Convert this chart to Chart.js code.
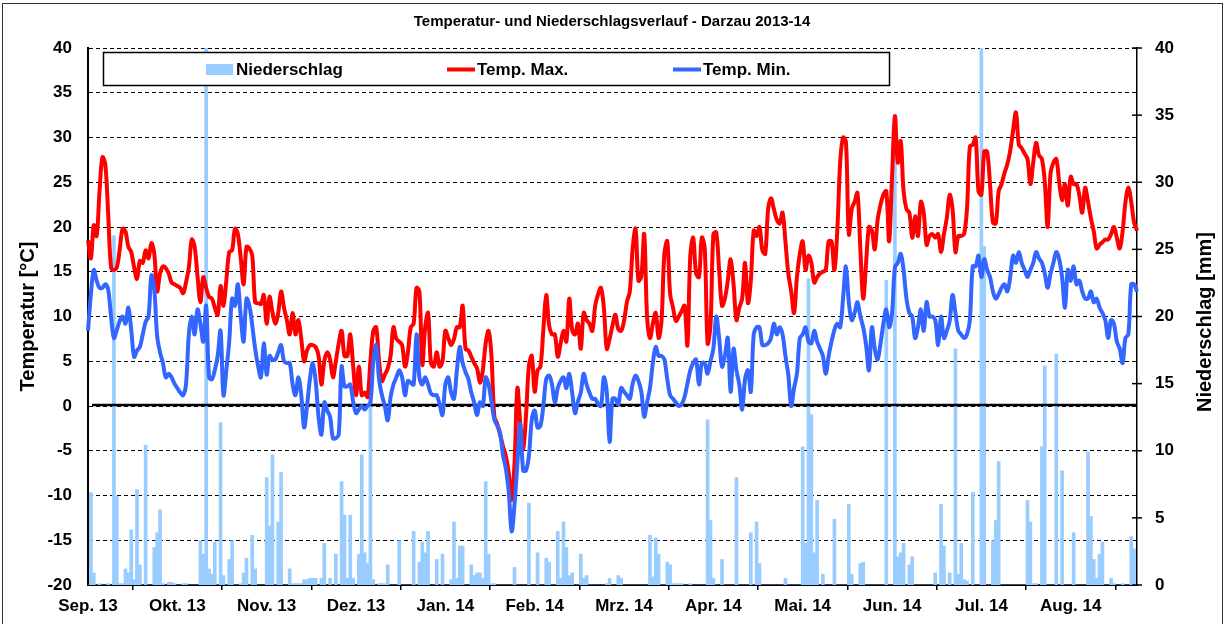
<!DOCTYPE html>
<html lang="de">
<head>
<meta charset="utf-8">
<title>Temperatur- und Niederschlagsverlauf - Darzau 2013-14</title>
<script src="https://cdn.jsdelivr.net/npm/chart.js@4.4.1/dist/chart.umd.min.js"></script>
<style>
  html, body { margin: 0; padding: 0; background: #fff; }
  #wrap { width: 1226px; height: 624px; }
</style>
</head>
<body>
<div id="wrap"><canvas id="chart" width="1226" height="624"></canvas></div>
<script>
// Tageswerte 01.09.2013 - 31.08.2014 (eine Zeile pro Monat)
const startDatum = "2013-09-01";
const tickSchritt = 31;
const monatsLabels = ["Sep. 13", "Okt. 13", "Nov. 13", "Dez. 13", "Jan. 14", "Feb. 14",
  "Mrz. 14", "Apr. 14", "Mai. 14", "Jun. 14", "Jul. 14", "Aug. 14"];

const tempMax = [
  18.5,16.5,20.2,19,24,27.8,27,21.5,15.5,15.2,15.5,17.5,19.8,19.5,17.8,17.2,15.5,14.2,16.2,16,17.4,16.5,18.2,17,12.8,14.8,15.6,15.4,14.8,13.8,
  13.6,13.4,13.2,12.6,13.8,15.5,18.6,17.8,14.5,11.6,14.4,13.2,12.2,12,11,10.2,13.4,11.2,14,17.2,17.4,19.8,19.2,16.5,13.6,17.8,17.6,16.8,11.6,11.5,11.4,
  12.4,9.2,12.2,10.5,9.2,10.4,12.8,11,9.6,8,10.4,8,9.6,7.5,5,6.2,6.8,6.8,6.6,5.6,2.4,5,6,5.2,3.2,5,7,8.4,5.6,5.6,
  8,4.5,1.2,4.4,1.2,1.5,1,5,8.4,8.8,5,2.8,3.5,4.2,5.6,8.8,7.5,7.2,6.8,4.4,6,8.8,9.2,13.2,12.8,4.6,8.8,10.4,4.8,4.4,6,
  4.4,5,8.4,7.6,6.8,7.5,8.8,8.8,11.2,6.4,6.2,5.5,4.8,4.2,2.6,4,7,8.4,5.6,-1.2,-2,-3.2,-4.5,-5.6,-7.5,-10.5,-6.4,2,-2,-4.8,-1,
  4.5,5.6,1.6,4,4.4,8.5,12.4,9,8,8,5.5,7,8.4,7.2,12,8.5,8,9.2,6.4,10.4,9.6,9.2,8.4,11.2,12.5,13.2,11,6.4,
  7.5,9,10.2,8.6,8.4,9.5,11.6,12.8,17.6,19.8,14,14.5,19.2,10,7.6,9.2,10.4,7.6,9.5,17,18.4,12.5,11,9.5,10,10.6,11.2,6.8,16.8,18.8,14.8,
  14.4,18.8,17.6,7,9,19.2,19.4,15.2,11.2,12,14,16.4,13.6,9.6,11,12,16,11.5,14,19.6,19,20,17.4,17,22,23.2,22,20.8,20.4,21.6,
  18.4,14.8,12.8,10.4,14.4,17,18.4,15.2,16.8,16,13.8,14.4,14.8,15,15.2,18.4,18.4,15.2,19.6,27.2,30,29.5,19.2,22,22.8,23.8,17.6,12,16,20,19.6,
  17.5,20.8,22.5,23.6,24,18.4,25.6,32.4,27.2,29.6,24,22,21.6,18.8,21.2,19,22.8,21.6,18,19,19.2,18.8,19.2,17.2,19.2,21,23.6,22,17.2,19,
  19,19.2,22,29,29.2,30,24,23.6,28.4,28.4,24.8,20.5,20.4,24,24.8,26,27,28.5,30.8,32.8,29.2,28.8,28.2,27.6,24.8,27.2,29.4,28,27.6,25,20,
  26,27.2,27.6,25,23,24.8,22.4,25.6,24.8,24.8,23.5,21.6,24.4,22.8,21,19.5,17.6,18,18.3,18.6,18.6,19.2,20,18.8,17.6,19.5,22.8,24.4,22.8,20.5,19.6
];

const tempMin = [
  8.4,12.5,15.2,14,13.2,13.2,13.6,13,10,7.6,8.5,9.5,10,9.2,11,8.5,5.5,6.2,6.6,8,9.4,10,14.6,13,7.8,6,4.8,3.2,3.6,3.2,
  2.5,2,1.5,1.2,2.4,8,10,8,10.8,9.2,7.2,11.2,3.2,3,4,5.6,8.4,1.2,4,7.2,12,11.2,13.6,10,7.2,12,11.2,9,6.4,4.5,3.2,
  7,3.5,5.6,5.2,5.2,6,6.8,5,4.8,4.8,2.4,1.2,3.2,1.2,-2.4,0,3,4.8,2.8,-1.2,-3.2,0.4,-0.5,-1.2,-3.6,-3.6,-3.2,4.4,2.2,2.2,
  2.4,0.5,-0.8,-0.4,0,-0.4,0,0.4,5,6.8,3,1.2,0,-1.6,1,2.4,3.2,4,3.2,1.2,2.8,2.6,2.4,8,3.2,2.4,3.2,2.4,1.4,1.2,1.2,
  0.2,-1,2.4,3.2,1.5,0.8,4,6.6,4.8,3.8,3,1.5,0.4,-1,0.4,0,3.2,2.4,0.5,-1.5,-2.2,-3,-5.5,-7,-9.6,-14,-11,-6.4,-2,-7.2,-7.2,
  -5.5,-1.5,-0.5,-2.4,-2.2,0,3,3.4,2.4,0.4,2,2.8,3.2,2,3.6,1.5,-0.8,0.5,1.5,3.6,2.4,1.5,0.8,0.8,0.2,0,3.2,1.6,
  -4,0.8,0.8,0.2,2,1.6,1.2,0.8,2.5,3.4,2.8,1.6,-1.2,0.4,2,4.8,6.6,5.6,5.6,5.2,3,1.2,0.8,0.4,0,0.2,1,2.5,4,4.8,5.2,
  2.4,4.8,4.8,3.6,5,6.4,10,7.6,4.4,5.6,7.6,1.6,6.4,4,2.4,-0.4,3,4,1.6,8,8.8,8.8,6.8,6.8,7,7.6,9.2,8,8.8,8,
  5.6,3.5,0,2,3.6,7.6,8,8.8,7.2,7,8.4,7.2,6.4,5.6,3.6,5.6,7.2,8.5,9.2,8.8,12,15.6,11.6,9.6,10.4,11.6,10,8.8,6.8,4,8.8,
  6.4,5.2,7,9.2,10.8,8.8,10.4,15.5,16,17,15.2,12,10.4,10,7.6,8.8,10.8,8.4,11.6,10,10,9.6,6.8,10,7.6,8.4,9.5,12.4,10.4,8.4,
  8,7.6,8,9.6,15.6,15.6,16.8,14.4,16.4,15.2,14.4,12.8,12,12.5,13.2,13.6,12.8,14.4,16.8,16,17.2,16,15.2,14.4,15.2,16,17.2,16.5,16,14.8,13.2,
  14.8,16,17.2,16.4,14.4,11,15.2,14,15.6,13.6,14,12.8,12,12,12.8,11.6,12,11,10.4,9.6,7.6,9.6,9.2,7.2,6.4,4.8,7.6,8,13.6,13.6,12.8
];

const niederschlag = [
  0,6.9,0.9,0,0.1,0,0,0.1,0,26,6.6,0.1,0.1,1.2,0.9,4.1,0.4,7.1,1.5,0,10.4,0,0,2.8,3.9,5.6,0.1,0,0.2,0.2,
  0.1,0,0,0.1,0.1,0,0,0,0,3.3,2.3,40,1.2,0.8,3.2,0,12.1,0.7,0,1.9,3.3,0,0,0.1,0.9,2,0,3.7,1.2,0,0,
  0,8,4.4,9.7,0,4.7,8.4,0,0,1.2,0.1,0.1,0.1,0.1,0.4,0.4,0.5,0.5,0.5,0,0.5,3.1,0,0.5,0,2.3,0,7.7,5.2,0.5,
  5.2,0.5,0,2.3,9.7,2.4,1.6,15.3,0.4,0,0.1,0.1,0.1,1.5,0,0,0,3.3,0,0,0,0,4,0,1.7,3.2,2.4,4,0,0,1.9,
  0,2.3,0,0,0.4,4.7,0.5,2.9,2.9,0,0,1.5,0.7,0.9,0.9,0.5,7.7,2.3,0.1,0.1,0,0,0,0,0,0,1.3,0,0,0,0,
  6.1,0,0,2.4,0,0,2,1.7,0,0,4,0.5,4.7,2.8,0.7,0.9,0,0,2.3,0.5,0.7,0,0,0,0,0,0,0.1,
  0.5,0,0,0.7,0.5,0,0,0,0,0,0,0,0,0,3.7,0.6,3.5,2.3,0,0,1.7,1.5,0.1,0.1,0.1,0.1,0,0,0.1,0,0,
  0,0,0,12.3,4.8,0.5,0,0,1.9,0,0,0,0,8,0,0,0,0,3.9,0,4.7,1.6,0,0,0,0,0,0,0,0,
  0.5,0,0,0,0,0,10.3,3.1,22.8,12.7,2.4,6.3,0,0.8,0,0,0,4.9,0,0,0,0,6,0.8,0,0,1.6,1.7,0,0,0,
  0,0,0,0,22.7,0,0,33,2.1,2.4,3.1,0,1.5,2.1,0,0,0,0,0,0,0,0.9,0,6,2.9,0,0.9,0,17.6,0.8,
  3.1,0.4,0.3,0,6.9,0,0,40,25.2,0,0,3.3,4.8,9.2,0,0,0,0,0,0,0,0,0,6.3,4.7,0.1,0.1,0,10.3,16.3,0,
  0,0,17.2,0,8.5,0,0,0,3.9,0,0,0,0,9.9,5.1,1.9,0.5,2.3,3.2,0,0,0.5,0.1,0,0,0.1,0,0,3.6,2.7,0
];

// Kategorien = Tage
const tage = [];
const d0 = new Date(startDatum + "T00:00:00Z");
for (let i = 0; i < tempMax.length; i++) {
  const d = new Date(d0.getTime() + i * 86400000);
  tage.push(d.toISOString().slice(0, 10));
}

const FONT = '"Liberation Sans", Arial, sans-serif';
Chart.defaults.font.family = FONT;
Chart.defaults.color = "#000";

const rahmen = {
  id: "rahmen",
  afterDatasetDraw(chart, args) {
    // Nulllinie ueber den Balken, unter den Temperaturlinien
    if (args.index !== 0) return;
    const { ctx, chartArea, scales } = chart;
    const y0 = scales.y.getPixelForValue(0) - 1;
    ctx.save();
    ctx.strokeStyle = "#000";
    ctx.lineWidth = 2.5;
    ctx.beginPath();
    ctx.moveTo(chartArea.left + 4, y0);
    ctx.lineTo(chartArea.right, y0);
    ctx.stroke();
    ctx.restore();
  },
  afterDraw(chart) {
    const { ctx, chartArea, scales } = chart;
    const ds = chart.data.datasets;
    ctx.save();

    // Titel
    ctx.fillStyle = "#000";
    ctx.font = "bold 15px " + FONT;
    ctx.textAlign = "center";
    ctx.textBaseline = "middle";
    ctx.fillText("Temperatur- und Niederschlagsverlauf - Darzau 2013-14", 612, 22);

    // Legende
    ctx.fillStyle = "#fff";
    ctx.fillRect(103, 52, 787, 34);
    ctx.strokeStyle = "#000";
    ctx.lineWidth = 1.5;
    ctx.strokeRect(103.5, 52.5, 786, 33);
    ctx.font = "bold 17px " + FONT;
    ctx.textAlign = "left";
    const pos = [206, 447, 673];
    ds.forEach((d, i) => {
      const x = pos[i];
      if (d.type === "bar") {
        ctx.fillStyle = d.backgroundColor;
        ctx.fillRect(x, 64, 27, 11);
      } else {
        ctx.strokeStyle = d.borderColor;
        ctx.lineWidth = 4;
        ctx.beginPath();
        ctx.moveTo(x, 69.5);
        ctx.lineTo(x + 28, 69.5);
        ctx.stroke();
      }
      ctx.fillStyle = "#000";
      ctx.fillText(d.label, x + 30, 70);
    });

    // Teilstriche rechte Achse
    const r = Math.round(chartArea.right);
    ctx.strokeStyle = "#000";
    ctx.lineWidth = 1.5;
    scales.y2.ticks.forEach((t) => {
      const y = scales.y2.getPixelForValue(t.value);
      ctx.beginPath();
      ctx.moveTo(r - 5, y);
      ctx.lineTo(r + 5, y);
      ctx.stroke();
    });

    // Achsentitel rechts
    ctx.save();
    ctx.translate(1205, 322);
    ctx.rotate(-Math.PI / 2);
    ctx.font = "bold 20px " + FONT;
    ctx.textAlign = "center";
    ctx.textBaseline = "middle";
    ctx.fillStyle = "#000";
    ctx.fillText("Niederschlag [mm]", 0, 0);
    ctx.restore();

    // Rahmen
    ctx.strokeStyle = "#333";
    ctx.lineWidth = 1;
    ctx.strokeRect(2.5, 3.5, 1220, 700);
    ctx.restore();
  }
};

new Chart(document.getElementById("chart"), {
  data: {
    labels: tage,
    datasets: [
      {
        type: "bar",
        label: "Niederschlag",
        data: niederschlag,
        yAxisID: "y2",
        backgroundColor: "#99ccff",
        borderWidth: 0,
        barThickness: 3,
        order: 3,
      },
      {
        type: "line",
        label: "Temp. Max.",
        data: tempMax,
        yAxisID: "y",
        borderColor: "#ff0000",
        borderWidth: 4,
        pointRadius: 0,
        tension: 0.35,
        order: 2,
      },
      {
        type: "line",
        label: "Temp. Min.",
        data: tempMin,
        yAxisID: "y",
        borderColor: "#3366ff",
        borderWidth: 4,
        pointRadius: 0,
        tension: 0.35,
        order: 1,
      },
    ],
  },
  options: {
    responsive: false,
    animation: false,
    layout: { padding: { top: 48, left: 0, right: 0, bottom: 0 } },
    plugins: {
      legend: { display: false },
      title: { display: false },
      tooltip: { enabled: false },
    },
    scales: {
      x: {
        type: "category",
        offset: false,
        afterBuildTicks(scale) {
          scale.ticks = scale.ticks.filter((t) => t.value % tickSchritt === 0);
        },
        afterFit(scale) { scale.height = 39; },
        ticks: {
          autoSkip: false,
          maxRotation: 0,
          minRotation: 0,
          padding: 6,
          font: { size: 17, weight: "bold" },
          callback: (v) => monatsLabels[v / tickSchritt],
        },
        grid: { drawOnChartArea: false, tickLength: 5, color: "#000", lineWidth: 1.5 },
        border: { color: "#000", width: 2 },
      },
      y: {
        position: "left",
        min: -20,
        max: 40,
        afterFit(scale) { scale.width = 88; },
        ticks: { stepSize: 5, padding: 16, font: { size: 17, weight: "bold" } },
        grid: { color: "#000", lineWidth: 1, drawTicks: false },
        border: { color: "#000", width: 2, dash: [4, 3] },
        title: {
          display: true,
          text: "Temperatur [°C]",
          font: { size: 20, weight: "bold" },
          padding: { top: 16, bottom: 0 },
        },
      },
      y2: {
        position: "right",
        min: 0,
        max: 40,
        afterFit(scale) { scale.width = 89; },
        ticks: { stepSize: 5, padding: 10, font: { size: 17, weight: "bold" } },
        grid: { display: false },
        border: { color: "#000", width: 1.5 },
      },
    },
  },
  plugins: [rahmen],
});
</script>
</body>
</html>
